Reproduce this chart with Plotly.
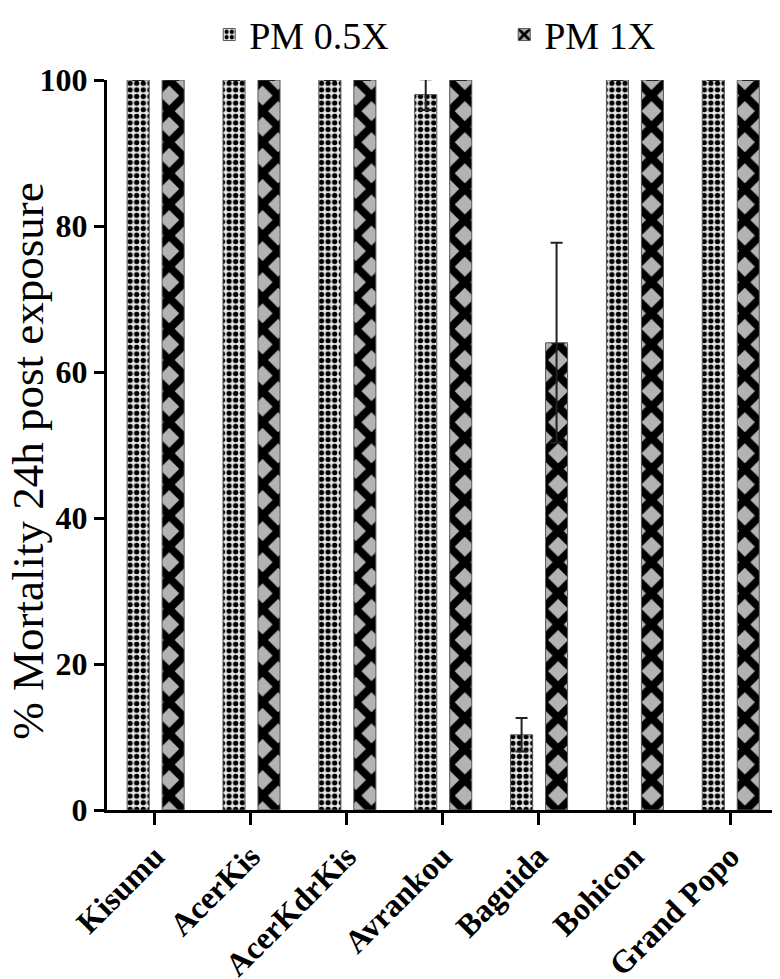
import plotly.graph_objects as go

# ---------------------------------------------------------------------------
# Data
# ---------------------------------------------------------------------------
strains = ["Kisumu", "AcerKis", "AcerKdrKis", "Avrankou", "Baguida", "Bohicon", "Grand Popo"]

pm_half = [100, 100, 100, 98, 10.3, 100, 100]       # PM 0.5X
pm_half_err = [0, 0, 0, 2.1, 2.3, 0, 0]

pm_one = [100, 100, 100, 100, 64, 100, 100]         # PM 1X
pm_one_err = [0, 0, 0, 0, 13.7, 0, 0]

y_ticks = [0, 20, 40, 60, 80, 100]

SERIF = "Liberation Serif, Times New Roman, serif"

fig = go.Figure()

fig.add_trace(go.Bar(
    x=strains, y=pm_half,
    name="PM 0.5X",
    width=0.23, offset=-0.29,
    marker=dict(
        color="#e6e6e6",
        line=dict(color="#555555", width=1),
        pattern=dict(shape=".", fgcolor="black", bgcolor="#e6e6e6",
                     size=6.6, solidity=0.5, fillmode="replace"),
    ),
    error_y=dict(type="data", array=pm_half_err, symmetric=True,
                 color="#222222", thickness=2, width=6),
))

fig.add_trace(go.Bar(
    x=strains, y=pm_one,
    name="PM 1X",
    width=0.23, offset=0.075,
    marker=dict(
        color="#b3b3b3",
        line=dict(color="#555555", width=1),
        pattern=dict(shape="x", fgcolor="black", bgcolor="#b3b3b3",
                     size=22, solidity=0.58, fillmode="replace"),
    ),
    error_y=dict(type="data", array=pm_one_err, symmetric=True,
                 color="#222222", thickness=2, width=6),
))

# y-axis title as a rotated annotation so it can sit at the far left edge
fig.add_annotation(
    xref="paper", yref="paper",
    x=-0.1177, y=0.477,
    xanchor="center", yanchor="middle",
    text="% Mortality 24h post exposure",
    textangle=-90,
    showarrow=False,
    font=dict(family=SERIF, size=45, color="black"),
)

# the page body adds an 8px offset, so the margins are shifted to compensate
fig.update_layout(
    width=772, height=971,
    margin=dict(l=99, r=2, t=72, b=169, autoexpand=False),
    plot_bgcolor="white",
    paper_bgcolor="white",
    font=dict(family=SERIF, color="black"),
    showlegend=True,
    legend=dict(
        orientation="h",
        x=0.592, xanchor="center",
        y=1.105, yanchor="top",
        font=dict(family=SERIF, size=38, color="black"),
        entrywidth=250,
        bgcolor="rgba(0,0,0,0)",
    ),
    xaxis=dict(
        range=[-0.5, 6.5],
        automargin=False,
        showline=True, linecolor="black", linewidth=3,
        ticks="outside", ticklen=12, tickwidth=3, tickcolor="black",
        tickangle=-45,
        tickfont=dict(family=SERIF, size=32, color="black", weight="bold"),
        showgrid=False, zeroline=False,
    ),
    yaxis=dict(
        range=[0, 100],
        automargin=False,
        tickvals=y_ticks,
        showline=True, linecolor="black", linewidth=3,
        ticks="outside", ticklen=10, tickwidth=3, tickcolor="black",
        tickfont=dict(family=SERIF, size=32, color="black", weight="bold"),
        showgrid=False, zeroline=False,
    ),
)

fig.write_html("out.html")
